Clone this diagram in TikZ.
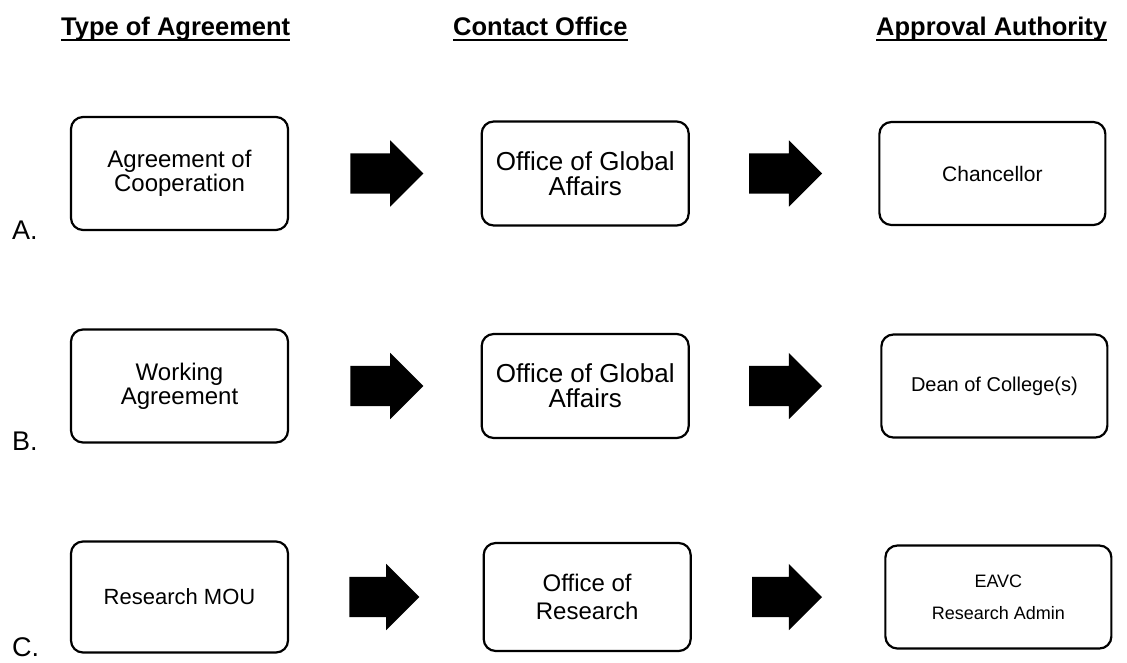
\documentclass[tikz,border=0pt]{standalone}
\usepackage{fontspec}
\setmainfont{Liberation Sans}
\usetikzlibrary{shapes.arrows, positioning}
\tikzstyle{box}=[draw,rectangle,line width=2.2pt,rounded corners=12pt,align=center,inner sep=0pt]
\tikzstyle{typebox}=[box,minimum width=217pt,minimum height=113pt,font=\fontsize{24}{24}\selectfont]
\tikzstyle{officebox}=[box,minimum width=207pt,minimum height=104pt,font=\fontsize{26}{25}\selectfont]
\tikzstyle{authbox}=[box,minimum width=226pt,minimum height=103pt,font=\fontsize{21}{24}\selectfont]
\tikzstyle{fatarrow}=[single arrow,fill=black,inner xsep=0pt,inner ysep=20pt,minimum height=73pt,single arrow head extend=13pt]
\tikzstyle{head}=[anchor=base west,inner sep=0pt,font=\bfseries\fontsize{25.5}{26}\selectfont]
\tikzstyle{rowlabel}=[anchor=base west,inner sep=0pt,font=\fontsize{27}{27}\selectfont]
\tikzstyle{uline}=[line width=2.5pt]

\begin{document}
\begin{tikzpicture}[x=1pt,y=-1pt]
  \useasboundingbox (0,0) rectangle (1127,662);
  % column headings
  \node[head] (hType) at (61,35) {Type of Agreement};
  \node[head] (hOffice) at (453,35) {Contact Office};
  \node[head] (hAuth) at (876,35) {Approval Authority};
  \foreach \h in {hType,hOffice,hAuth}
    \draw[uline] ([yshift=-5pt]\h.base west) -- ([yshift=-5pt]\h.base east);

  % row A
  \node[rowlabel] (labA) at (12,239) {A.};
  \node[typebox] (coop) at (179.5,173.5) {Agreement of\\Cooperation};
  \node[fatarrow, right=61pt of coop] (arrA1) {};
  \node[officebox, right=57pt of arrA1] (globalA) {Office of Global\\Affairs};
  \node[fatarrow, right=59pt of globalA] (arrA2) {};
  \node[authbox, right=56pt of arrA2] (chancellor) {Chancellor};

  % row B
  \node[rowlabel] (labB) at (12,450) {B.};
  \node[typebox] (working) at (179.5,386) {Working\\Agreement};
  \node[fatarrow, right=61pt of working] (arrB1) {};
  \node[officebox, right=57pt of arrB1] (globalB) {Office of Global\\Affairs};
  \node[fatarrow, right=59pt of globalB] (arrB2) {};
  \node[authbox, right=58pt of arrB2, font=\fontsize{20}{24}\selectfont] (dean) {Dean of College(s)};

  % row C
  \node[rowlabel] (labC) at (12,656) {C.};
  \node[typebox, minimum height=111pt, font=\fontsize{22}{24}\selectfont] (mou) at (179.5,597) {Research MOU};
  \node[fatarrow, right=60pt of mou, minimum height=70pt] (arrC1) {};
  \node[officebox, right=63pt of arrC1, minimum height=108pt, font=\fontsize{24}{28}\selectfont] (research) {Office of\\Research};
  \node[fatarrow, right=60pt of research, minimum height=70pt] (arrC2) {};
  \node[authbox, right=62pt of arrC2, font=\fontsize{18}{32}\selectfont] (eavc) {EAVC\\Research Admin};
\end{tikzpicture}
\end{document}
